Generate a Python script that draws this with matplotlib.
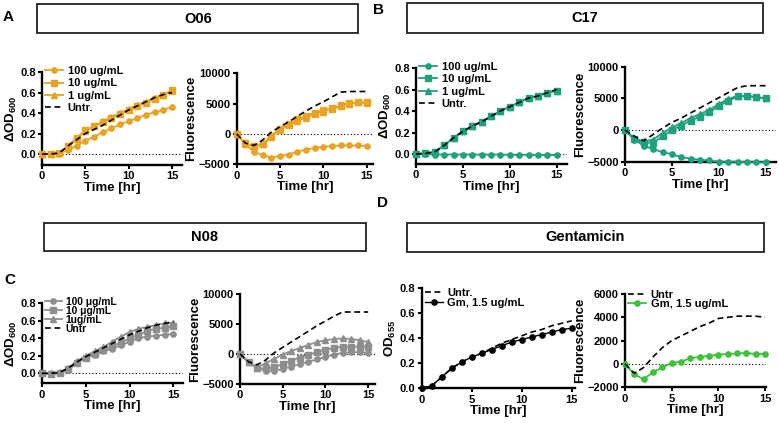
import matplotlib
matplotlib.use("Agg")
import matplotlib.pyplot as plt
from matplotlib.patches import Rectangle

plt.rcParams['font.family'] = ['Liberation Sans', 'DejaVu Sans']
plt.rcParams['font.weight'] = 'bold'
plt.rcParams['mathtext.fontset'] = 'custom'
plt.rcParams['mathtext.rm'] = 'Liberation Sans:bold'
plt.rcParams['mathtext.bf'] = 'Liberation Sans:bold'

time = list(range(16))

# ---- O06 (panel A) ----
o06_od_100 = [0, 0, 0.005, 0.04, 0.08, 0.13, 0.17, 0.21, 0.25, 0.29, 0.32, 0.35, 0.38, 0.41, 0.43, 0.46]
o06_od_10 = [0, 0, 0.01, 0.08, 0.16, 0.23, 0.27, 0.31, 0.35, 0.39, 0.43, 0.47, 0.50, 0.54, 0.58, 0.62]
o06_od_1 = [0, 0, 0.01, 0.07, 0.15, 0.22, 0.27, 0.32, 0.36, 0.40, 0.44, 0.48, 0.51, 0.55, 0.58, 0.61]
o06_od_untr = [0, 0, 0.01, 0.08, 0.14, 0.20, 0.24, 0.28, 0.33, 0.38, 0.43, 0.47, 0.51, 0.55, 0.58, 0.60]
o06_fl_100 = [0, -1700, -3000, -3500, -3900, -3600, -3400, -2900, -2600, -2300, -2100, -2000, -1900, -1900, -1900, -2000]
o06_fl_10 = [0, -1500, -2000, -1600, -300, 900, 1600, 2400, 3000, 3500, 3900, 4200, 4700, 5100, 5200, 5200]
o06_fl_1 = [0, -1600, -2100, -1700, -500, 700, 1400, 2100, 2700, 3300, 3700, 4100, 4600, 5000, 5200, 5100]
o06_fl_untr = [0, -1500, -1900, -1000, 300, 1200, 2000, 2900, 3800, 4600, 5300, 6100, 6900, 7000, 7000, 7000]

# ---- C17 (panel B) ----
c17_od_100 = [0, 0, -0.005, -0.005, -0.005, -0.005, -0.005, -0.005, -0.005, -0.005, -0.008, -0.008, -0.008, -0.01, -0.01, -0.01]
c17_od_10 = [0, 0.005, 0.02, 0.08, 0.15, 0.21, 0.26, 0.30, 0.35, 0.40, 0.44, 0.48, 0.52, 0.54, 0.57, 0.59]
c17_od_1 = [0, 0.005, 0.02, 0.08, 0.15, 0.21, 0.26, 0.30, 0.35, 0.40, 0.44, 0.48, 0.52, 0.54, 0.57, 0.59]
c17_od_untr = [0, 0.005, 0.02, 0.08, 0.15, 0.21, 0.26, 0.30, 0.35, 0.40, 0.44, 0.48, 0.52, 0.54, 0.57, 0.60]
c17_fl_100 = [0, -1500, -2500, -3000, -3500, -3800, -4300, -4500, -4700, -4800, -5000, -5000, -5000, -5100, -5100, -5100]
c17_fl_10 = [0, -1400, -2000, -2000, -1000, 0, 700, 1500, 2100, 2800, 3800, 4600, 5300, 5400, 5200, 5000]
c17_fl_1 = [0, -1300, -1800, -1500, -500, 400, 1100, 1900, 2500, 3200, 4100, 4900, 5400, 5300, 5200, 5000]
c17_fl_untr = [0, -1000, -1700, -700, 300, 1200, 1900, 2700, 3500, 4300, 5100, 5900, 6700, 7000, 7000, 7000]

# ---- N08 (panel C) ----
n08_od_100 = [0, -0.005, 0.0, 0.04, 0.12, 0.18, 0.21, 0.25, 0.28, 0.32, 0.36, 0.40, 0.42, 0.43, 0.44, 0.45]
n08_od_10 = [0, -0.005, 0.0, 0.05, 0.12, 0.18, 0.22, 0.27, 0.31, 0.35, 0.40, 0.44, 0.48, 0.51, 0.52, 0.54]
n08_od_1 = [0, 0, 0.01, 0.06, 0.14, 0.20, 0.25, 0.30, 0.36, 0.42, 0.47, 0.51, 0.53, 0.55, 0.57, 0.58]
n08_od_untr = [0, 0, 0.01, 0.06, 0.13, 0.19, 0.24, 0.29, 0.34, 0.39, 0.44, 0.48, 0.52, 0.55, 0.57, 0.59]
n08_fl_100 = [0, -1400, -2300, -2800, -2800, -2500, -2100, -1700, -1300, -900, -500, -100, 200, 300, 300, 200]
n08_fl_10 = [0, -1400, -2300, -2500, -2200, -1700, -1100, -600, -100, 300, 700, 1000, 1200, 1200, 1200, 1200]
n08_fl_1 = [0, -1300, -2300, -1500, -800, -100, 500, 1000, 1500, 2000, 2300, 2500, 2600, 2500, 2300, 2000]
n08_fl_untr = [0, -1300, -1800, -1000, 200, 1100, 2000, 2900, 3800, 4700, 5500, 6300, 7000, 7000, 7000, 7000]

# ---- Gentamicin (panel D) ----
gm_od = [0, 0.02, 0.09, 0.16, 0.21, 0.25, 0.28, 0.31, 0.34, 0.37, 0.39, 0.41, 0.43, 0.45, 0.47, 0.48]
gm_od_untr = [0, 0.02, 0.09, 0.16, 0.21, 0.25, 0.28, 0.32, 0.36, 0.39, 0.42, 0.45, 0.47, 0.50, 0.52, 0.54]
gm_fl = [0, -900, -1300, -700, -300, 100, 200, 500, 600, 700, 800, 850, 900, 950, 850, 850]
gm_fl_untr = [0, -800, -300, 600, 1400, 2000, 2400, 2800, 3200, 3500, 3900, 4000, 4100, 4100, 4100, 4000]

dose_labels = ['100 ug/mL', '10 ug/mL', '1 ug/mL', 'Untr.']
dose_labels_n08 = ['100 \u03bcg/mL', '10 \u03bcg/mL', '1ug/mL', 'Untr']
headers = ['O06', 'C17', 'N08', 'Gentamicin']

ORANGE = '#E8A323'
TEAL = '#1FA07E'
GRAY = '#8E8E8E'
GREEN = '#3EC03A'

W, H = 779, 423
fig = plt.figure(figsize=(W / 100, H / 100), dpi=100)


def make_ax(l, r, t, b):
    ax = fig.add_axes([l / W, 1 - b / H, (r - l) / W, (b - t) / H])
    for s in ['top', 'right']:
        ax.spines[s].set_visible(False)
    for s in ['left', 'bottom']:
        ax.spines[s].set_linewidth(1.7)
    ax.tick_params(direction='out', length=3, width=1.5, labelsize=8, pad=1.5)
    ax.set_xticks([0, 5, 10, 15])
    ax.set_xlabel('Time [hr]', fontsize=9.5, fontweight='bold', labelpad=0.5)
    ax.patch.set_alpha(0)
    return ax


def bold_ticks(ax):
    for lab in ax.get_xticklabels() + ax.get_yticklabels():
        lab.set_fontweight('bold')


markers = ['o', 's', '^']


def add_legend(ax, handles, labels, size, lsp, anchor_y):
    ax.legend(handles, labels, loc='upper left', bbox_to_anchor=(0.0, anchor_y), frameon=False,
              prop={'size': size, 'weight': 'bold'}, handlelength=1.6, handletextpad=0.4,
              labelspacing=lsp, borderaxespad=0.2, borderpad=0.1)


def dose_panel(ax, series, untr, color, ylim, yticks, ylabel, xlim, legend=None, size=8, lsp=0.22, ay=1.1):
    ax.axhline(0, color='black', lw=0.8, ls=(0, (1, 2)), zorder=1)
    handles = []
    for s, m in zip(series, markers):
        h, = ax.plot(time, s, color=color, marker=m, ms=3.8, lw=1.3, zorder=3, clip_on=False)
        handles.append(h)
    h, = ax.plot(time, untr, color='black', ls=(0, (3.5, 2.2)), lw=1.2, zorder=4, clip_on=False)
    handles.append(h)
    ax.set_xlim(*xlim)
    ax.set_ylim(*ylim)
    ax.set_yticks(yticks)
    ax.set_ylabel(ylabel, fontsize=9.5, fontweight='bold', labelpad=1)
    bold_ticks(ax)
    if legend is not None:
        add_legend(ax, handles, legend, size, lsp, ay)
    return handles


OD_LABEL = '\u0394OD$_{600}$'
od_ticks = [0.0, 0.2, 0.4, 0.6, 0.8]
fl_ticks = [-5000, 0, 5000, 10000]
fmt1 = matplotlib.ticker.FormatStrFormatter('%.1f')

# Panel A
ax = make_ax(42, 182, 72, 165)
dose_panel(ax, [o06_od_100, o06_od_10, o06_od_1], o06_od_untr, ORANGE, (-0.107, 0.8), od_ticks, OD_LABEL,
           (0, 16.15), dose_labels)
ax.yaxis.set_major_formatter(fmt1)
ax = make_ax(236.7, 373, 73.3, 164.3)
dose_panel(ax, [o06_fl_100, o06_fl_10, o06_fl_1], o06_fl_untr, ORANGE, (-5000, 10000), fl_ticks, 'Fluorescence',
           (0, 15.73))

# Panel B
ax = make_ax(416, 566.7, 68, 164)
dose_panel(ax, [c17_od_100, c17_od_10, c17_od_1], c17_od_untr, TEAL, (-0.093, 0.8), od_ticks, OD_LABEL,
           (0, 16.07), dose_labels)
ax.yaxis.set_major_formatter(fmt1)
ax = make_ax(625, 776, 66.7, 161.7)
dose_panel(ax, [c17_fl_100, c17_fl_10, c17_fl_1], c17_fl_untr, TEAL, (-5000, 10000), fl_ticks, 'Fluorescence',
           (0, 16.1))

# Panel C
ax = make_ax(42, 183, 303.3, 383.3)
dose_panel(ax, [n08_od_100, n08_od_10, n08_od_1], n08_od_untr, GRAY, (-0.114, 0.8), od_ticks, OD_LABEL,
           (0, 16.1), dose_labels_n08, size=7.4, lsp=-0.1, ay=1.12)
ax.yaxis.set_major_formatter(fmt1)
ax = make_ax(240, 375, 294, 384)
dose_panel(ax, [n08_fl_100, n08_fl_10, n08_fl_1], n08_fl_untr, GRAY, (-5000, 10000), fl_ticks, 'Fluorescence',
           (0, 15.8))

# Panel D left
ax = make_ax(421.7, 575, 288.3, 388.3)
h1, = ax.plot(time, gm_od_untr, color='black', ls=(0, (3.5, 2.2)), lw=1.2, zorder=4, clip_on=False)
h2, = ax.plot(time, gm_od, color='black', marker='o', ms=3.8, lw=1.0, zorder=3, clip_on=False)
ax.set_xlim(0, 15.33)
ax.set_ylim(0, 0.8)
ax.set_yticks(od_ticks)
ax.yaxis.set_major_formatter(fmt1)
ax.set_ylabel('OD$_{655}$', fontsize=9.5, fontweight='bold', labelpad=1)
bold_ticks(ax)
add_legend(ax, [h1, h2], ['Untr.', 'Gm, 1.5 ug/mL'], 8, 0.0, 1.04)

# Panel D right
ax = make_ax(625, 766, 294, 387.3)
ax.axhline(0, color='black', lw=0.8, ls=(0, (1, 2)), zorder=1)
h1, = ax.plot(time, gm_fl_untr, color='black', ls=(0, (3.5, 2.2)), lw=1.2, zorder=4, clip_on=False)
h2, = ax.plot(time, gm_fl, color=GREEN, marker='o', ms=3.8, lw=1.3, zorder=3, clip_on=False)
ax.set_xlim(0, 15.1)
ax.set_ylim(-2000, 6000)
ax.set_yticks([-2000, 0, 2000, 4000, 6000])
ax.set_ylabel('Fluorescence', fontsize=9.5, fontweight='bold', labelpad=1)
bold_ticks(ax)
add_legend(ax, [h1, h2], ['Untr', 'Gm, 1.5 ug/mL'], 8, -0.05, 1.08)

# Header boxes
boxes = [(37.3, 358.3, 4, 33.3), (406.7, 763.3, 3, 33), (44, 366, 223.3, 251), (406.7, 764, 223, 251.7)]
for (l, r, t, b), name in zip(boxes, headers):
    fig.patches.append(Rectangle((l / W, 1 - b / H), (r - l) / W, (b - t) / H, transform=fig.transFigure,
                                 fill=False, lw=1.3, edgecolor='#222222'))
    fig.text((l + r) / 2 / W, 1 - (t + b) / 2 / H, name, ha='center', va='center', fontsize=10.5,
             fontweight='bold')

# Panel letters
for letter, (x, y) in zip('ABCD', [(8, 17), (378, 10), (10, 280), (382, 203)]):
    fig.text(x / W, 1 - y / H, letter, ha='center', va='center', fontsize=11, fontweight='bold')

fig.savefig('out.png', dpi=100)
